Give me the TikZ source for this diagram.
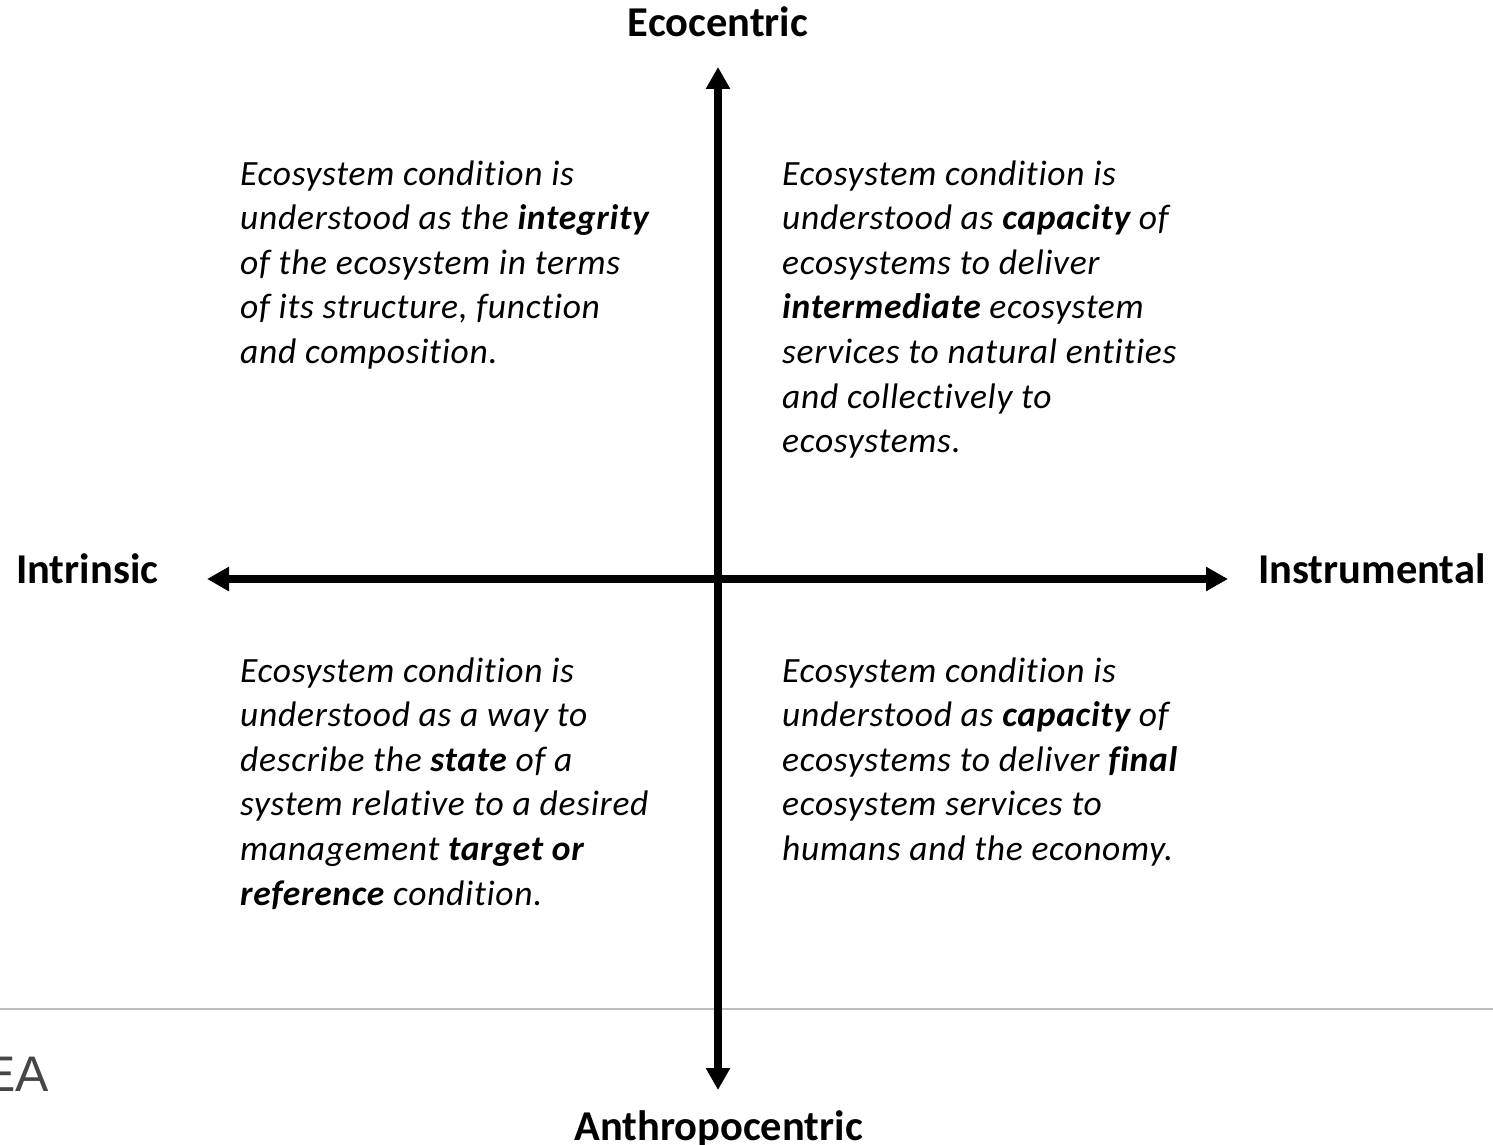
\documentclass[tikz,border=0pt]{standalone}
\usepackage{fontspec}
\setmainfont[Ligatures=CommonOff]{Carlito}
\newfontfamily\bodyfont[Ligatures=CommonOff,LetterSpace=2]{Carlito}
\newfontfamily\eafont{Liberation Sans}
\usetikzlibrary{arrows.meta}
\tikzset{
  axisline/.style={line width=7.5pt, {Triangle[length=22pt,width=23pt]}-{Triangle[length=22pt,width=23pt]}},
  axislabel/.style={inner sep=0pt, font=\fontsize{42.5}{50}\selectfont\bfseries},
  quadtext/.style={inner sep=0pt, anchor=base west, font=\bodyfont\fontsize{35.5}{44.6}\selectfont\itshape},
}
\begin{document}
\begin{tikzpicture}[x=1pt,y=-1pt]
\useasboundingbox (0,0) rectangle (1493,1145);
\clip (0,0) rectangle (1493,1145);
% footer remnants
\draw[line width=1.2pt, draw={rgb,255:red,190;green,190;blue,190}] (0,1009) -- (1493,1009);
\node[inner sep=0pt, anchor=base east, text={rgb,255:red,70;green,70;blue,70}, font=\eafont\fontsize{50}{60}\selectfont] (ea) at (49,1091) {EA};
% axes
\coordinate (top) at (718,67);
\coordinate (bottom) at (718,1090);
\coordinate (left) at (207,579);
\coordinate (right) at (1228,579);
\draw[axisline] (top) -- (bottom);
\draw[axisline] (left) -- (right);
% axis labels
\node[axislabel, anchor=base] (eco) at (718,37) {Ecocentric};
\node[axislabel, anchor=base] (anthro) at (718.5,1140) {Anthropocentric};
\node[axislabel, anchor=base west] (intr) at (16,583) {Intrinsic};
\node[axislabel, anchor=base west] (instr) at (1258,583) {Instrumental};
% quadrant texts
\node[quadtext] (q1) at (240,185) {\begin{tabular}[t]{@{}l@{}}
Ecosystem condition is\\
understood as the \textbf{integrity}\\
of the ecosystem in terms\\
of its structure, function\\
and composition.
\end{tabular}};
\node[quadtext] (q2) at (782,185) {\begin{tabular}[t]{@{}l@{}}
Ecosystem condition is\\
understood as \textbf{capacity} of\\
ecosystems to deliver\\
\textbf{intermediate} ecosystem\\
services to natural entities\\
and collectively to\\
ecosystems.
\end{tabular}};
\node[quadtext] (q3) at (240,682) {\begin{tabular}[t]{@{}l@{}}
Ecosystem condition is\\
understood as a way to\\
describe the \textbf{state} of a\\
system relative to a desired\\
management \textbf{target or}\\
\textbf{reference} condition.
\end{tabular}};
\node[quadtext] (q4) at (782,682) {\begin{tabular}[t]{@{}l@{}}
Ecosystem condition is\\
understood as \textbf{capacity} of\\
ecosystems to deliver \textbf{final}\\
ecosystem services to\\
humans and the economy.
\end{tabular}};
\end{tikzpicture}
\end{document}
